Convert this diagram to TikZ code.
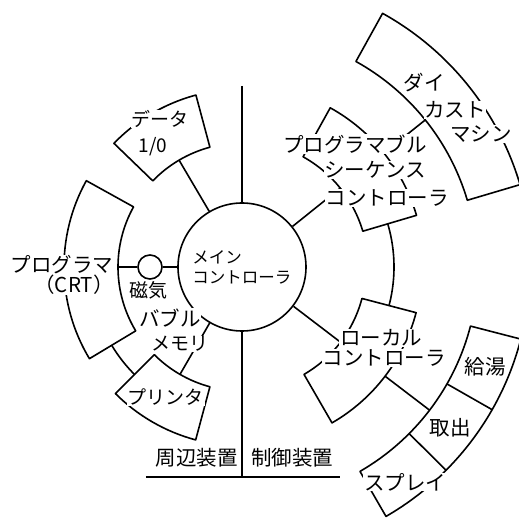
\documentclass[tikz,border=0pt]{standalone}
\usepackage{fontspec}
\newfontfamily\jpfont{Noto Sans CJK JP}
\newcommand\annsector[4]{\draw[box] (#1:#3pt) arc[start angle=#1,end angle=#2,radius=#3pt] -- (#2:#4pt) arc[start angle=#2,end angle=#1,radius=#4pt] -- cycle;}
\tikzset{
  box/.style={draw=black,fill=white,line width=1.6pt,line join=round},
  conn/.style={draw=black,line width=1.6pt},
  lbl/.style={font=\jpfont\fontsize{20.5}{24}\selectfont,fill=white,inner sep=0.6pt},
  lbls/.style={font=\jpfont\fontsize{19}{22}\selectfont,fill=white,inner sep=0.6pt},
}
\begin{document}
\begin{tikzpicture}[x=1pt,y=1pt]
\useasboundingbox (-242,-252) rectangle (277,267);
\clip (-242,-252) rectangle (277,267);
\fill[white] (-242,-252) rectangle (277,267);
% ring arcs
\coordinate (ringR) at (20:152pt);
\coordinate (ringL) at (205:152pt);
\draw[conn] (ringR) arc[start angle=20,end angle=-20,radius=152pt];
\draw[conn] (ringL) arc[start angle=205,end angle=230,radius=152pt];
% coordinates on blocks
\coordinate (dio-in) at (120.5:124pt);
\coordinate (prog-in) at (180:124pt);
\coordinate (prt-in) at (240:124pt);
\coordinate (psc-in) at (38.75:126pt);
\coordinate (psc-out) at (38.75:182pt);
\coordinate (die-in) at (38.75:235pt);
\coordinate (loc-in) at (-37.35:124pt);
\coordinate (loc-out) at (-37.35:180pt);
\coordinate (far-in) at (-37.35:236pt);
\coordinate (vtop) at (0,181);
\coordinate (vbot) at (0,-210);
\coordinate (hl) at (-96,-210);
\coordinate (hr) at (98,-210);
% main controller
\node[circle,draw,line width=1.6pt,fill=white,minimum size=128pt,inner sep=0pt,align=left,
  font=\jpfont\fontsize{16.5}{20}\selectfont] (main) at (0,0) {メイン\\コントローラ};
% connectors
\draw[conn] (vtop) -- (main.north);
\draw[conn] (main.south) -- (vbot);
\draw[conn] (hl) -- (hr);
\draw[conn] (main) -- (dio-in);
\draw[conn] (main) -- (prt-in);
\draw[conn] (main) -- (psc-in);
\draw[conn] (psc-out) -- (die-in);
\draw[conn] (main) -- (loc-in);
\draw[conn] (loc-out) -- (far-in);
\node[circle,draw,line width=1.6pt,fill=white,minimum size=24pt,inner sep=0pt] (bubble) at (180:92pt) {};
\draw[conn] (main) -- (bubble) -- (prog-in);
% blocks
\annsector{105}{136}{124}{178}
\annsector{151}{211}{124}{178}
\annsector{225}{255}{124}{179}
\annsector{16.5}{61}{126}{182}
\annsector{16.5}{61}{235}{290}
\annsector{-60}{-14.7}{124}{180}
\annsector{-60}{-14.5}{236}{288}
\draw[conn] (-29.7:236pt) -- (-29.7:288pt);
\draw[conn] (-44.9:236pt) -- (-44.9:288pt);
% labels
\node[lbls] (dio1) at (-82,148) {データ};
\node[lbls] (dio2) at (-89,120) {1/0};
\node[lbl] (prog1) at (-180,2) {プログラマ};
\node[lbl] (prog2) at (-168,-18) {（CRT）};
\node[lbls] (bub1) at (-93,-23) {磁気};
\node[lbl] (bub2) at (-72,-51) {バブル};
\node[lbls] (bub3) at (-62,-77) {メモリ};
\node[lbls] (prt) at (-76,-130) {プリンタ};
\node[lbl] (die1) at (182,184) {ダイ};
\node[lbl] (die2) at (213,157) {カスト};
\node[lbl] (die3) at (239,133) {マシン};
\node[lbl] (psc1) at (113,123) {プログラマブル};
\node[lbl] (psc2) at (133,97) {シーケンス};
\node[lbl] (psc3) at (145,69) {コントローラ};
\node[lbl] (loc1) at (139,-71) {ローカル};
\node[lbl] (loc2) at (142,-91) {コントローラ};
\node[lbl] (far1) at (243,-100) {給湯};
\node[lbl] (far2) at (208,-161) {取出};
\node[lbl] (far3) at (163,-215) {スプレイ};
\node[lbl,fill=none] (side1) at (-45,-191) {周辺装置};
\node[lbl,fill=none] (side2) at (50,-191) {制御装置};
\end{tikzpicture}
\end{document}
